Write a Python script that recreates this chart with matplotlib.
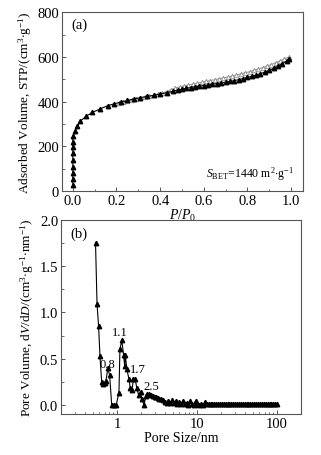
import matplotlib
matplotlib.use("Agg")
import matplotlib.pyplot as plt
from matplotlib.ticker import MultipleLocator, LogLocator, NullFormatter, FixedLocator

plt.rcParams['font.family'] = ['Liberation Serif', 'DejaVu Serif']
plt.rcParams['mathtext.fontset'] = 'custom'
plt.rcParams['mathtext.rm'] = 'Liberation Serif'
plt.rcParams['mathtext.it'] = 'Liberation Serif:italic'
plt.rcParams['mathtext.bf'] = 'Liberation Serif:bold'

# (a) N2 isotherm
ads_p = [0.0, 0.0, 0.0, 0.0, 0.0, 0.0, 0.0, 0.0, 0.0, 0.01, 0.02, 0.033, 0.06, 0.09, 0.125, 0.16, 0.19,
         0.22, 0.25, 0.28, 0.31, 0.34, 0.37, 0.40, 0.43, 0.46, 0.48, 0.50, 0.52, 0.54, 0.56, 0.58, 0.60,
         0.62, 0.64, 0.66, 0.68, 0.70, 0.72, 0.74, 0.76, 0.78, 0.80, 0.82, 0.84, 0.86, 0.88, 0.90,
         0.92, 0.94, 0.96, 0.98, 0.99]
ads_v = [27, 54, 79, 106, 139, 169, 195, 220, 245, 267, 289, 311, 334, 352, 367, 382, 390,
         398, 405, 412, 418, 423, 428, 434, 440, 446, 452, 456, 459, 463, 466, 469, 472,
         475, 478, 481, 484, 487, 490, 494, 498, 503, 508, 513, 519, 525, 532, 540,
         549, 559, 570, 582, 592]
des_p = [0.99, 0.97, 0.95, 0.93, 0.91, 0.89, 0.87, 0.85, 0.83, 0.81, 0.79, 0.77, 0.75, 0.73, 0.71,
         0.69, 0.67, 0.65, 0.63, 0.61, 0.59, 0.57, 0.55, 0.53, 0.51, 0.49, 0.47, 0.45, 0.43, 0.41,
         0.39, 0.37, 0.35, 0.33, 0.31, 0.29, 0.27, 0.25, 0.23, 0.21]
des_v = [600, 591, 582, 574, 566, 559, 552, 546, 540, 534, 529, 524, 519, 514, 510,
         506, 502, 498, 494, 490, 486, 482, 478, 474, 470, 466, 461, 453, 445, 437,
         432, 428, 423, 419, 415, 411, 407, 403, 399, 395]

# (b) pore size distribution
psd_d = [0.54, 0.564, 0.59, 0.614, 0.644, 0.67, 0.70, 0.73, 0.77, 0.81, 0.86, 0.92, 0.98, 1.06, 1.09,
         1.15, 1.21, 1.25, 1.27, 1.33, 1.41, 1.47, 1.54, 1.61, 1.69, 1.77, 1.86, 1.97, 2.05, 2.17,
         2.3, 2.4, 2.55, 2.67, 2.8, 2.95, 3.1, 3.25, 3.4, 3.6, 3.8, 4.0, 4.2, 4.4, 4.65, 4.9, 5.15,
         5.4, 5.7, 6.0, 6.3, 6.65, 7.0, 7.4, 7.8, 8.2, 8.65, 9.1, 9.6, 10.1, 10.7, 11.3, 11.9, 12.6,
         13.3, 14.0, 14.8, 15.6, 16.5, 17.4, 18.4, 19.4, 20.5, 21.6, 22.8, 24.1, 25.4, 26.8, 28.3,
         29.9, 31.6, 33.4, 35.3, 37.3, 39.4, 41.6, 44.0, 46.5, 49.1, 51.9, 54.8, 57.9, 61.2, 64.7,
         68.3, 72.2, 76.3, 80.6, 85.2, 90.0, 95.1, 100.0]
psd_v = [1.755, 1.095, 0.85, 0.524, 0.25, 0.22, 0.24, 0.26, 0.40, 0.32, 0.0, 0.0, 0.0, 0.13, 0.60,
         0.70, 0.54, 0.42, 0.54, 0.39, 0.28, 0.18, 0.155, 0.28, 0.28, 0.18, 0.11, 0.14, 0.065, 0.0,
         0.09, 0.12, 0.12, 0.105, 0.10, 0.085, 0.08, 0.07, 0.065, 0.06, 0.05, 0.03, 0.02, 0.04, 0.02,
         0.05, 0.02, 0.04, 0.01, 0.03, 0.01, 0.04, 0.01, 0.02, 0.0, 0.04, 0.01, 0.0, 0.04, 0.01,
         0.0, 0.01, 0.0, 0.03, 0.01, 0.005, 0.005, 0.005, 0.005, 0.005, 0.005, 0.005, 0.005, 0.005,
         0.005, 0.005, 0.005, 0.005, 0.005, 0.005, 0.005, 0.005, 0.005, 0.005, 0.005, 0.005, 0.005,
         0.005, 0.005, 0.005, 0.005, 0.005, 0.005, 0.005, 0.005, 0.005, 0.005, 0.005, 0.005, 0.005,
         0.005, 0.005]
peak_labels = ['0.8', '1.1', '1.7', '2.5']
peak_x = [0.77, 1.08, 1.80, 2.68]
peak_y = [0.44, 0.79, 0.39, 0.20]

spine_c = '#555555'
fs = 10.5
lfs = 9.5

fig = plt.figure(figsize=(3.21, 4.56), dpi=100)
ax1 = fig.add_axes([0.193, 0.579, 0.751, 0.392])
ax2 = fig.add_axes([0.190, 0.090, 0.748, 0.425])

for ax in (ax1, ax2):
    for s in ax.spines.values():
        s.set_color(spine_c)
        s.set_linewidth(0.8)
    ax.tick_params(which='both', direction='in', color=spine_c, labelsize=fs, pad=2)
    ax.tick_params(which='major', length=3, width=0.7)
    ax.tick_params(which='minor', length=1.8, width=0.6)

# (a)
ax1.plot(des_p, des_v, color='#999999', lw=0.8, marker='^', ms=3.2, mfc='white',
         mec='#888888', mew=0.6)
ax1.plot(ads_p, ads_v, color='black', lw=0.8, marker='^', ms=3.2, mfc='black', mec='black')
ax1.set_xlim(-0.05, 1.055)
ax1.set_ylim(0, 800)
ax1.xaxis.set_major_locator(MultipleLocator(0.2))
ax1.xaxis.set_minor_locator(MultipleLocator(0.1))
ax1.yaxis.set_major_locator(MultipleLocator(200))
ax1.yaxis.set_minor_locator(MultipleLocator(100))
ax1.xaxis.set_major_formatter(matplotlib.ticker.FormatStrFormatter('%.1f'))
ax1.set_xlabel(r'$P/P_{\rm 0}$', fontsize=10, labelpad=0)
ax1.set_ylabel(r'Adsorbed Volume, STP/(cm$^{3}$$\cdot$g$^{-1}$)', fontsize=lfs, labelpad=2.5)
ax1.text(0.04, 0.93, '(a)', transform=ax1.transAxes, fontsize=fs, va='center', ha='left')
ax1.text(0.61, 80, r'$S_{\rm BET}$=1440 m$^{2}$$\cdot$g$^{-1}$', fontsize=8.5, ha='left', va='center')

# (b)
ax2.plot(psd_d, psd_v, color='black', lw=0.8, marker='^', ms=3.2, mfc='black', mec='black')
ax2.set_xscale('log')
ax2.set_xlim(0.2, 200)
ax2.set_ylim(-0.1, 2.0)
ax2.xaxis.set_major_locator(FixedLocator([1, 10, 100]))
ax2.xaxis.set_major_formatter(matplotlib.ticker.FixedFormatter(['1', '10', '100']))
ax2.xaxis.set_minor_locator(LogLocator(base=10, subs=range(2, 10)))
ax2.xaxis.set_minor_formatter(NullFormatter())
ax2.yaxis.set_major_locator(MultipleLocator(0.5))
ax2.yaxis.set_minor_locator(MultipleLocator(0.25))
ax2.yaxis.set_major_formatter(matplotlib.ticker.FormatStrFormatter('%.1f'))
ax2.set_xlabel('Pore Size/nm', fontsize=10, labelpad=1)
ax2.set_ylabel(r'Pore Volume, d$V$/d$D$/(cm$^{3}$$\cdot$g$^{-1}$$\cdot$nm$^{-1}$)', fontsize=lfs, labelpad=2.5)
ax2.text(0.04, 0.93, '(b)', transform=ax2.transAxes, fontsize=fs, va='center', ha='left')
for lab, x, y in zip(peak_labels, peak_x, peak_y):
    ax2.text(x, y, lab, fontsize=9, ha='center', va='center')

fig.savefig('out.png', dpi=100)
